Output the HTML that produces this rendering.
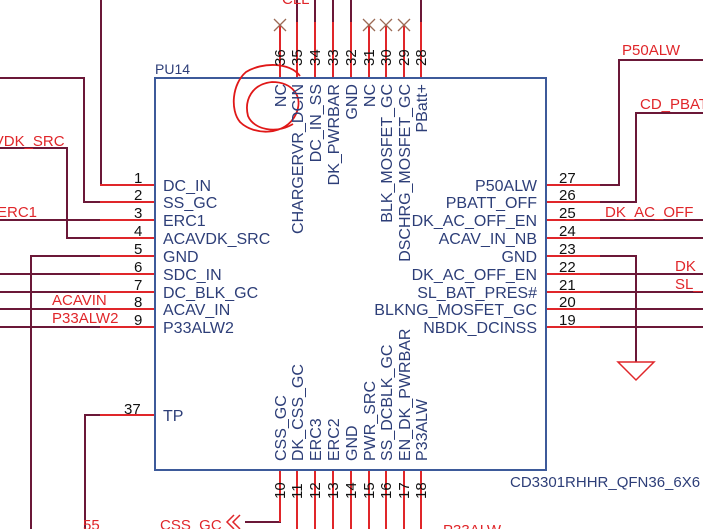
<!DOCTYPE html>
<html><head><meta charset="utf-8"><style>
html,body{margin:0;padding:0;background:#fff;width:703px;height:529px;overflow:hidden}
svg{display:block}
text{font-family:"Liberation Sans",sans-serif}
</style></head><body>
<svg width="703" height="529" viewBox="0 0 703 529" xmlns="http://www.w3.org/2000/svg">
<g stroke="#6b1838" stroke-width="2" fill="none">
 <path d="M297 0V22M315 0V22M333 0V22M351 0V22M421 0V22"/>
 <path d="M101 0V185H110"/>
 <path d="M0 78H84V202H110"/>
 <path d="M0 220H110"/>
 <path d="M0 148H67V238H110"/>
 <path d="M31 529V256H110"/>
 <path d="M0 274H110M0 292H110M0 309H110M0 327H110"/>
 <path d="M85 529V415H100"/>
 <path d="M590 185H619V60H703"/>
 <path d="M590 202H636V113H703"/>
 <path d="M590 220H703M590 238H703M590 274H703M590 292H703M590 309H703M590 327H703"/>
 <path d="M590 256H636V362"/>
 <path d="M280 505V522H245"/>
 <path d="M297 505V529M315 505V529M333 505V529M351 505V529M369 505V529M386 505V529M404 505V529M421 505V529"/>
</g>
<g stroke="#e0262a" stroke-width="2" fill="none">
 <path d="M280 25V78M297 22V78M315 22V78M333 22V78M351 22V78M369 25V78M386 25V78M404 25V78M421 22V78"/>
 <path d="M100 185H155M100 202H155M100 220H155M100 238H155M100 256H155M100 274H155M100 292H155M100 309H155M100 327H155"/>
 <path d="M546 185H600M546 202H600M546 220H600M546 238H600M546 256H600M546 274H600M546 292H600M546 309H600M546 327H600"/>
 <path d="M100 415H155"/>
 <path d="M280 470V522M297 470V529M315 470V529M333 470V529M351 470V529M369 470V529M386 470V529M404 470V529M421 470V529"/>
 <path d="M618 362H654L636 380Z" stroke-width="1.5"/>
 <path d="M240 515L233 522L240 529M234 515L227 522L234 529" stroke-width="1.5"/>
</g>
<g stroke="#9b6a55" stroke-width="1.3">
 <path d="M274 19L286 31M286 19L274 31M363 19L375 31M375 19L363 31M380 19L392 31M392 19L380 31M398 19L410 31M410 19L398 31"/>
</g>
<rect x="155" y="78" width="391" height="392" fill="none" stroke="#3d5a9a" stroke-width="2"/>
<path d="M300 76C290 62 262 62 246 72C232 84 230 110 240 122C254 136 286 136 296 114C304 96 292 82 272 82C252 84 244 100 248 116C254 130 276 134 293 124" fill="none" stroke="#e01818" stroke-width="1.8"/>
<g fill="#2d3e78" font-size="16">
 <text x="155" y="74" font-size="14">PU14</text>
 <text x="163" y="191">DC_IN</text><text x="163" y="208">SS_GC</text><text x="163" y="226">ERC1</text>
 <text x="163" y="244">ACAVDK_SRC</text><text x="163" y="262">GND</text><text x="163" y="280">SDC_IN</text>
 <text x="163" y="298">DC_BLK_GC</text><text x="163" y="315">ACAV_IN</text><text x="163" y="333">P33ALW2</text>
 <text x="163" y="421">TP</text>
 <g text-anchor="end">
 <text x="537" y="191">P50ALW</text><text x="537" y="208">PBATT_OFF</text><text x="537" y="226">DK_AC_OFF_EN</text>
 <text x="537" y="244">ACAV_IN_NB</text><text x="537" y="262">GND</text><text x="537" y="280">DK_AC_OFF_EN</text>
 <text x="537" y="298">SL_BAT_PRES#</text><text x="537" y="315">BLKNG_MOSFET_GC</text><text x="537" y="333">NBDK_DCINSS</text>
 </g>
 <g text-anchor="end">
 <text transform="translate(286,84) rotate(-90)">NC</text>
 <text transform="translate(303,84) rotate(-90)">CHARGERVR_DCIN</text>
 <text transform="translate(321,84) rotate(-90)">DC_IN_SS</text>
 <text transform="translate(339,84) rotate(-90)">DK_PWRBAR</text>
 <text transform="translate(357,84) rotate(-90)">GND</text>
 <text transform="translate(375,84) rotate(-90)">NC</text>
 <text transform="translate(392,84) rotate(-90)">BLK_MOSFET_GC</text>
 <text transform="translate(410,84) rotate(-90)">DSCHRG_MOSFET_GC</text>
 <text transform="translate(427,84) rotate(-90)">PBatt+</text>
 </g>
 <text transform="translate(286,461) rotate(-90)">CSS_GC</text>
 <text transform="translate(303,461) rotate(-90)">DK_CSS_GC</text>
 <text transform="translate(321,461) rotate(-90)">ERC3</text>
 <text transform="translate(339,461) rotate(-90)">ERC2</text>
 <text transform="translate(357,461) rotate(-90)">GND</text>
 <text transform="translate(375,461) rotate(-90)">PWR_SRC</text>
 <text transform="translate(392,461) rotate(-90)">SS_DCBLK_GC</text>
 <text transform="translate(410,461) rotate(-90)">EN_DK_PWRBAR</text>
 <text transform="translate(427,461) rotate(-90)">P33ALW</text>
 <text x="510" y="487" font-size="15">CD3301RHHR_QFN36_6X6</text>
</g>
<g fill="#111" font-size="15">
 <text x="134" y="183">1</text><text x="134" y="200">2</text><text x="134" y="218">3</text><text x="134" y="236">4</text>
 <text x="134" y="254">5</text><text x="134" y="272">6</text><text x="134" y="290">7</text><text x="134" y="307">8</text><text x="134" y="325">9</text>
 <text x="124" y="414">37</text>
 <text x="559" y="183">27</text><text x="559" y="200">26</text><text x="559" y="218">25</text><text x="559" y="236">24</text>
 <text x="559" y="254">23</text><text x="559" y="272">22</text><text x="559" y="290">21</text><text x="559" y="307">20</text><text x="559" y="325">19</text>
 <g>
 <text transform="translate(285,66) rotate(-90)">36</text><text transform="translate(302,66) rotate(-90)">35</text>
 <text transform="translate(320,66) rotate(-90)">34</text><text transform="translate(338,66) rotate(-90)">33</text>
 <text transform="translate(356,66) rotate(-90)">32</text><text transform="translate(374,66) rotate(-90)">31</text>
 <text transform="translate(391,66) rotate(-90)">30</text><text transform="translate(409,66) rotate(-90)">29</text>
 <text transform="translate(426,66) rotate(-90)">28</text>
 <text transform="translate(285,499) rotate(-90)">10</text><text transform="translate(302,499) rotate(-90)">11</text>
 <text transform="translate(320,499) rotate(-90)">12</text><text transform="translate(338,499) rotate(-90)">13</text>
 <text transform="translate(356,499) rotate(-90)">14</text><text transform="translate(374,499) rotate(-90)">15</text>
 <text transform="translate(391,499) rotate(-90)">16</text><text transform="translate(409,499) rotate(-90)">17</text>
 <text transform="translate(426,499) rotate(-90)">18</text>
 </g>
</g>
<g fill="#e0262a" font-size="15">
 <text x="-36" y="146">ACAVDK_SRC</text>
 <text x="-3" y="217">ERC1</text>
 <text x="52" y="305">ACAVIN</text>
 <text x="52" y="323">P33ALW2</text>
 <text x="622" y="55">P50ALW</text>
 <text x="640" y="109">CD_PBAT</text>
 <text x="605" y="217">DK_AC_OFF</text>
 <text x="675" y="271">DK</text>
 <text x="675" y="289">SL_</text>
 <text x="83" y="530">55</text>
 <text x="160" y="530">CSS_GC</text>
 <text x="443" y="535">P33ALW</text>
 <text x="282" y="4">CLL</text>
</g>
</svg>
</body></html>
